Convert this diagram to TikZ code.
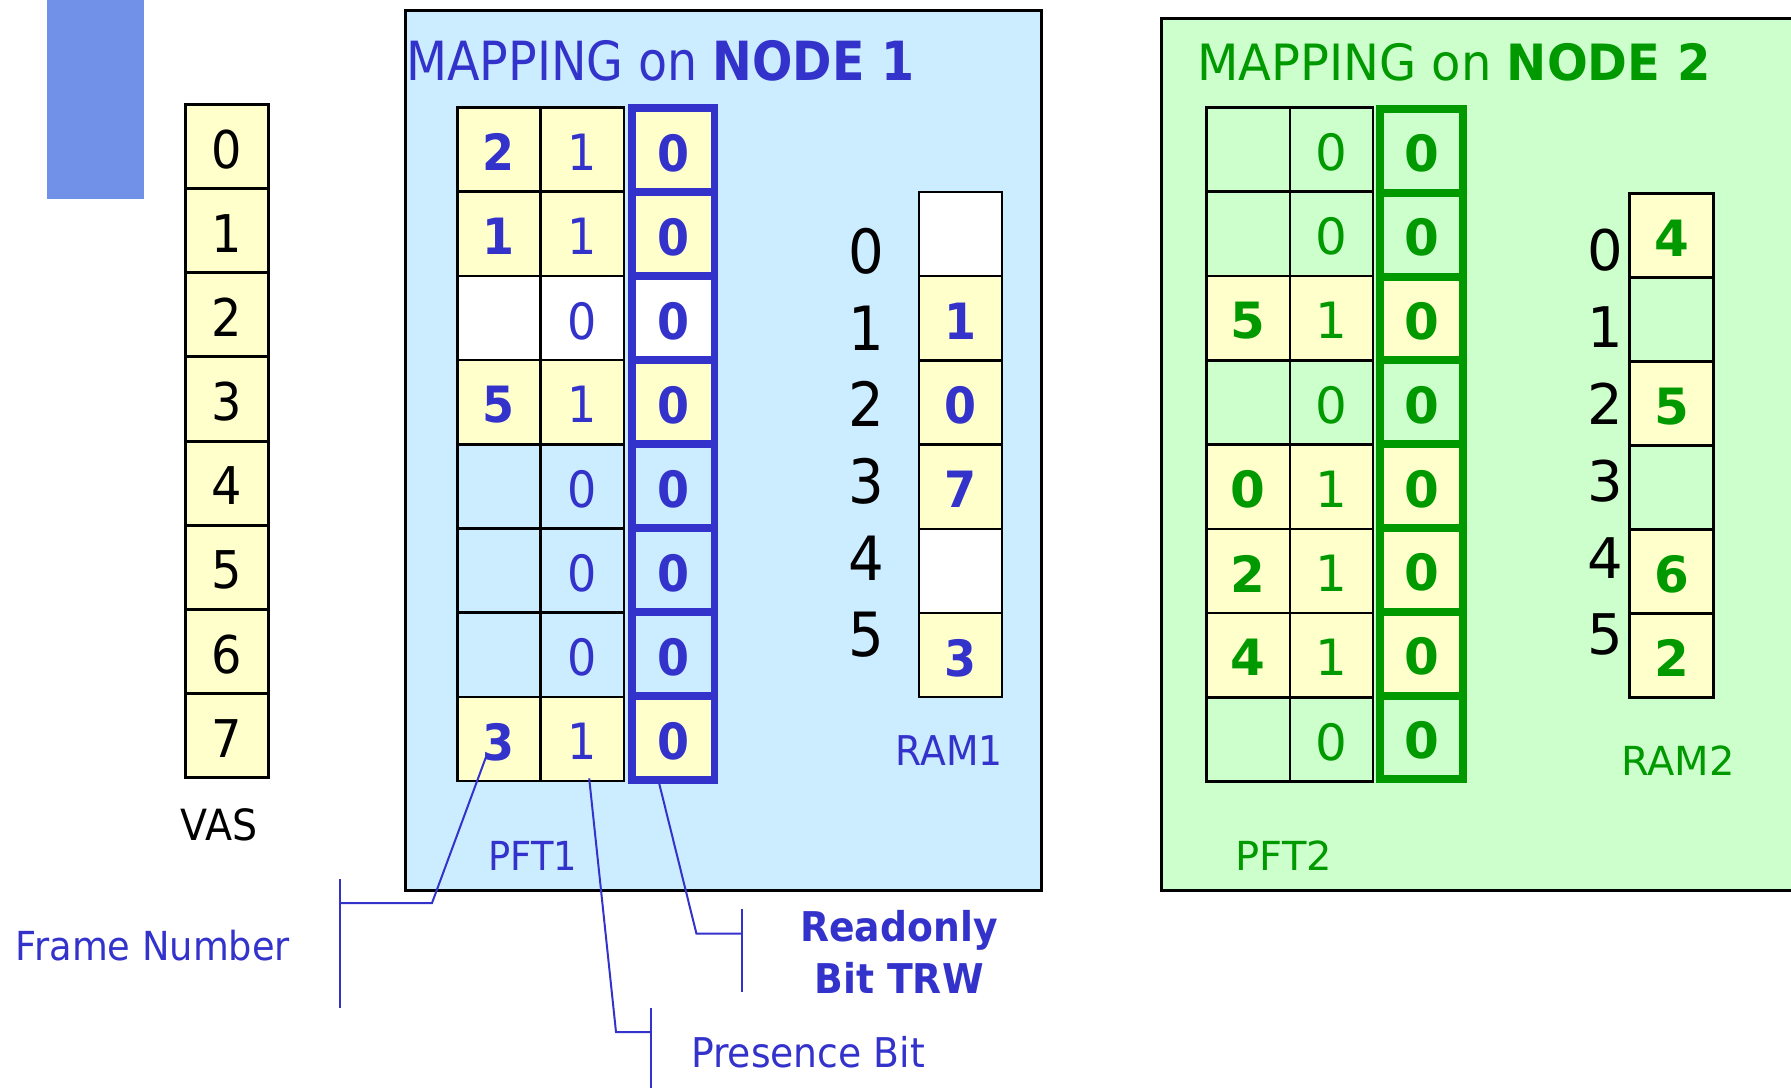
\documentclass[tikz,border=0pt]{standalone}
\usepackage{fontspec}
\setmainfont{DejaVu Sans}
\newfontfamily\fa[FakeStretch=0.88]{DejaVu Sans}
\newfontfamily\fb[FakeStretch=0.92]{DejaVu Sans}
\newfontfamily\fc[FakeStretch=0.96]{DejaVu Sans}
\newcommand\fsz[1]{\fontsize{#1}{#1}\selectfont}
\newcommand\dn[1]{\raisebox{-2.5pt}[\height][0pt]{#1}}
\definecolor{tblue}{HTML}{3333CC}
\definecolor{tgreen}{HTML}{009900}
\definecolor{bgblue}{HTML}{CCECFF}
\definecolor{bggreen}{HTML}{CCFFCC}
\definecolor{cyel}{HTML}{FFFFCC}
\definecolor{topblue}{HTML}{7190E8}
\tikzset{
  thincell/.style={draw=black, line width=2.5pt, minimum width=83pt, minimum height=84.2pt, inner sep=0pt},
  bluecell/.style={draw=tblue, line width=7.8pt, minimum width=82.2pt, minimum height=84pt, inner sep=0pt, text=tblue, font=\fb\fsz{50}\bfseries},
  greencell/.style={draw=tgreen, line width=8pt, minimum width=83pt, minimum height=83.8pt, inner sep=0pt, text=tgreen, font=\fsz{50}\bfseries},
  callout/.style={draw=tblue, line width=2pt},
  lab1/.style={inner sep=0pt, anchor=base, text=tblue, font=\fb\fsz{41}},
  lab2/.style={inner sep=0pt, anchor=base, text=tgreen, font=\fsz{40}},
}
\begin{document}
\begin{tikzpicture}[x=1pt,y=-1pt]
\useasboundingbox (0,0) rectangle (1791,1087);
\clip (0,0) rectangle (1791,1087);
% decorative block
\fill[topblue] (47,0) rectangle (144,199);
% VAS
\foreach \i in {0,...,7}
  \node[thincell, line width=3pt, fill=cyel, font=\fb\fsz{52}] (v\i) at (227,{104.3+84.2*(\i+0.5)}) {\dn{\i}};
\node[inner sep=0pt, anchor=base, font=\fb\fsz{43}] (vas) at (219,840) {VAS};

% NODE 1
\node[draw=black, line width=2.5pt, fill=bgblue, minimum width=636pt, minimum height=880pt, anchor=north west, inner sep=0pt] (node1) at (404,9) {};
\node[anchor=base west, inner sep=0pt, text=tblue, font=\fa\fsz{54}] (t1) at (406,80) {MAPPING on \textbf{NODE 1}};
\foreach \i/\f/\a/\b in {0/cyel/2/1, 1/cyel/1/1, 2/white/{}/0, 3/cyel/5/1, 4/none/{}/0, 5/none/{}/0, 6/none/{}/0, 7/cyel/3/1}{
  \node[thincell, fill=\f, text=tblue, font=\fb\fsz{50}\bfseries] (p1a\i) at (498.9,{107.5+84.2*(\i+0.5)}) {\dn{\a}};
  \node[thincell, minimum width=83.6pt, fill=\f, text=tblue, font=\fb\fsz{50}] (p1b\i) at (582.2,{107.5+84.2*(\i+0.5)}) {\dn{\b}};
  \node[bluecell, fill=\f] (p1c\i) at (673.3,{108+84*(\i+0.5)}) {\dn{0}};
}
\foreach \i/\f/\a in {0/white/{}, 1/cyel/1, 2/cyel/0, 3/cyel/7, 4/white/{}, 5/cyel/3}
  \node[thincell, fill=\f, text=tblue, font=\fb\fsz{50}\bfseries] (r1\i) at (960.5,{192+84.2*(\i+0.5)}) {\dn{\a}};
\foreach \i/\y in {0/251, 1/328, 2/404, 3/481, 4/558, 5/635}
  \node[inner sep=0pt, font=\fb\fsz{61}] (r1l\i) at (866,\y) {\i};
\node[lab1] (ram1) at (949,765) {RAM1};
\node[lab1, font=\fb\fsz{40}] (pft1) at (533,870) {PFT1};

% NODE 2
\node[draw=black, line width=2.5pt, fill=bggreen, minimum width=660pt, minimum height=872pt, anchor=north west, inner sep=0pt] (node2) at (1160,17) {};
\node[anchor=base west, inner sep=0pt, text=tgreen, font=\fc\fsz{50}] (t2) at (1197,80) {MAPPING on \textbf{NODE 2}};
\foreach \i/\f/\a/\b in {0/none/{}/0, 1/none/{}/0, 2/cyel/5/1, 3/none/{}/0, 4/cyel/0/1, 5/cyel/2/1, 6/cyel/4/1, 7/none/{}/0}{
  \node[thincell, minimum width=83.8pt, fill=\f, text=tgreen, font=\fsz{50}\bfseries] (p2a\i) at (1248.3,{107.3+84.3*(\i+0.5)}) {\dn{\a}};
  \node[thincell, minimum width=82.6pt, fill=\f, text=tgreen, font=\fsz{50}] (p2b\i) at (1331.5,{107.3+84.3*(\i+0.5)}) {\dn{\b}};
  \node[greencell, fill=\f] (p2c\i) at (1421.8,{109+83.8*(\i+0.5)}) {\dn{0}};
}
\foreach \i/\f/\a in {0/cyel/4, 1/none/{}, 2/cyel/5, 3/none/{}, 4/cyel/6, 5/cyel/2}
  \node[thincell, minimum width=83.8pt, minimum height=84pt, fill=\f, text=tgreen, font=\fsz{50}\bfseries] (r2\i) at (1671.5,{193.5+84*(\i+0.5)}) {\dn{\a}};
\foreach \i/\y in {0/250, 1/327, 2/404, 3/481, 4/558, 5/634}
  \node[inner sep=0pt, font=\fsz{56}] (r2l\i) at (1605,\y) {\i};
\node[lab2] (ram2) at (1678,775) {RAM2};
\node[lab2] (pft2) at (1284,870) {PFT2};

% callouts
\coordinate (fnbend) at (432,903);
\coordinate (fnend) at (340,903);
\coordinate (fntop) at (340,879);
\coordinate (fnbot) at (340,1007.5);
\draw[callout] ([shift={(-12,15.5)}]p1a7.center) -- (fnbend) -- (fnend);
\draw[callout] (fntop) -- (fnbot);
\node[lab1, font=\fb\fsz{40}] (fntext) at (153,960) {Frame Number};

\coordinate (pbbend) at (616,1032);
\coordinate (pbend) at (651,1032);
\coordinate (pbtop) at (651,1008);
\coordinate (pbbot) at (651,1090);
\draw[callout] ([shift={(7,-4)}]p1b7.south) -- (pbbend) -- (pbend);
\draw[callout] (pbtop) -- (pbbot);
\node[lab1] (pbtext) at (808,1067) {Presence Bit};

\coordinate (robend) at (696.4,933.5);
\coordinate (roend) at (742,933.5);
\coordinate (rotop) at (742,908.7);
\coordinate (robot) at (742,991.8);
\draw[callout] ([xshift=-14pt]p1c7.south) -- (robend) -- (roend);
\draw[callout] (rotop) -- (robot);
\node[lab1, font=\fb\fsz{41}\bfseries] (rotext1) at (899,941) {Readonly};
\node[lab1, font=\fb\fsz{41}\bfseries] (rotext2) at (899,993.5) {Bit TRW};
\end{tikzpicture}
\end{document}
